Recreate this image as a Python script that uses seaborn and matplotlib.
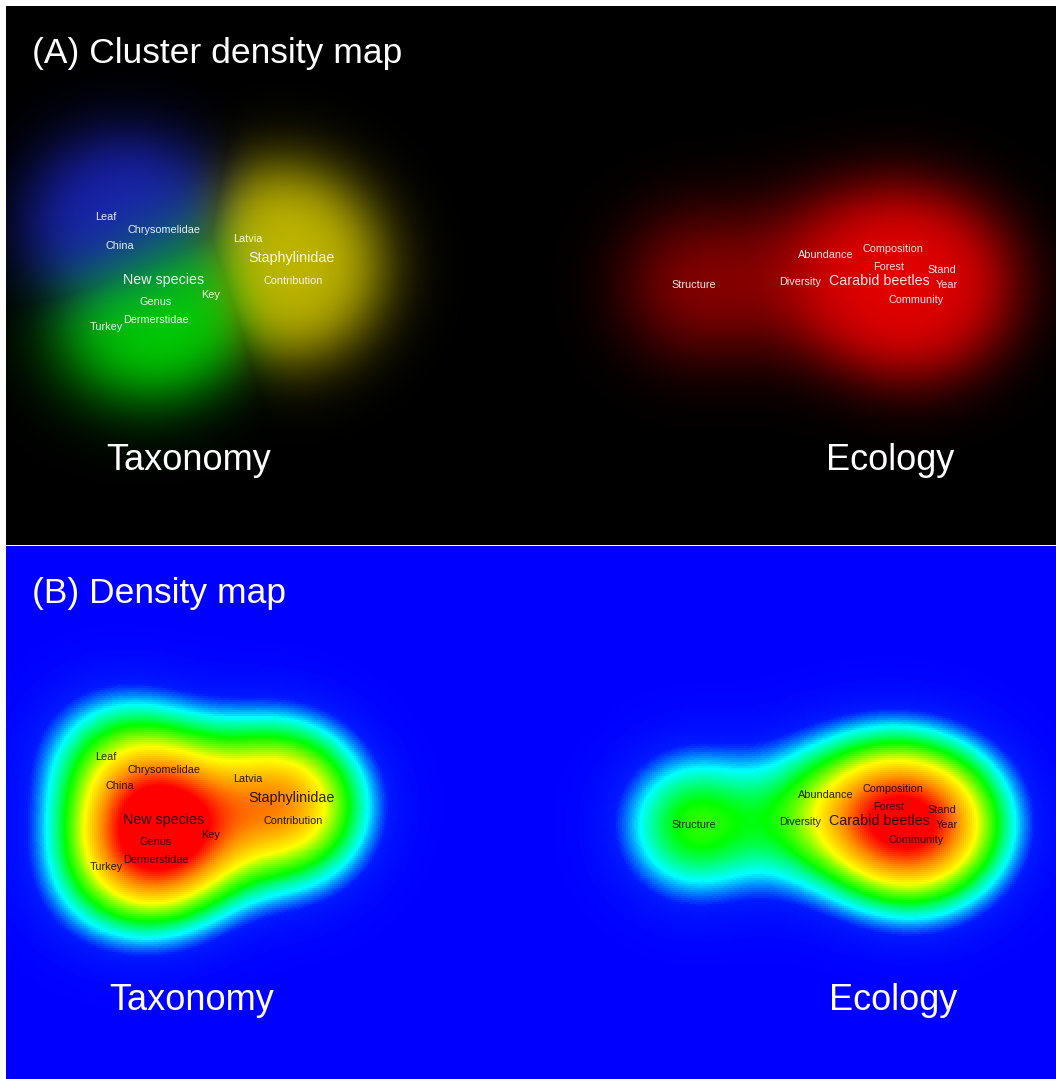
import numpy as np
import matplotlib
matplotlib.use("Agg")
import matplotlib.pyplot as plt
import seaborn as sns
from matplotlib.colors import LinearSegmentedColormap

# ---------------- data ----------------
terms = ["Leaf", "Chrysomelidae", "China", "Latvia", "Staphylinidae", "New species",
         "Contribution", "Key", "Genus", "Dermerstidae", "Turkey",
         "Structure", "Abundance", "Composition", "Forest", "Stand", "Diversity",
         "Carabid beetles", "Year", "Community"]
term_x = [106, 164, 120, 248, 292, 164, 293, 211, 156, 156, 106,
          694, 826, 893, 889, 942, 800, 879, 947, 916]
term_y = [211, 224, 240, 233, 252, 274, 275, 289, 296, 314, 321,
          279, 249, 243, 261, 264, 276, 275, 279, 294]
term_weight = [3, 3, 3, 3, 8, 10, 5, 4, 5, 6, 4,
               7, 1.5, 1, 3, 3, 4, 9, 5, 7]
term_cluster = ["blue", "blue", "blue", "yellow", "yellow", "green",
                "yellow", "green", "green", "green", "green",
                "red", "red", "red", "red", "red", "red", "red", "red", "red"]
cluster_rgb = {"blue": (0.10, 0.13, 0.70), "green": (0.0, 0.84, 0.0),
               "yellow": (0.76, 0.72, 0.0), "red": (0.90, 0.0, 0.0)}
group_labels = ["Taxonomy", "Ecology"]
group_x = [189, 890]
group_y = [454, 454]
panel_titles = ["(A) Cluster density map", "(B) Density map"]

# ---------------- density grid ----------------
STEP = 2
SIGMA = 48.0
gx = np.arange(6, 1056, STEP) + STEP / 2
gy = np.arange(0, 540, STEP) + STEP / 2
GX, GY = np.meshgrid(gx, gy)

def density(mask, sigma=SIGMA):
    d = np.zeros_like(GX)
    for x, y, w, m in zip(term_x, term_y, term_weight, mask):
        if m:
            d += w * np.exp(-((GX - x) ** 2 + (GY - y) ** 2) / (2 * sigma ** 2))
    return d

total = density([True] * len(terms))

sns.set_theme(style="white")
plt.rcParams["font.family"] = ["Liberation Sans", "DejaVu Sans"]

W, H = 1056, 1079
fig = plt.figure(figsize=(W / 100, H / 100), dpi=100)
fig.patch.set_facecolor("white")

SMALL, LARGE, BIG = 7.8, 10.3, 25.5
LARGE_TERMS = ("New species", "Staphylinidae", "Carabid beetles")

# ---------------- Panel A: cluster density ----------------
axA = fig.add_axes([6 / W, 1 - 545 / H, 1050 / W, 539 / H])
num = np.zeros(GX.shape + (3,))
den = np.zeros(GX.shape)
peak = np.zeros(GX.shape)
for c, col in cluster_rgb.items():
    dc = density([k == c for k in term_cluster], sigma=56)
    nc = dc / dc.max()
    num += (nc ** 2)[..., None] * np.array(col)[None, None, :]
    den += nc ** 2
    peak = np.maximum(peak, nc)
mix = num / np.maximum(den, 1e-12)[..., None]
bright = 1 - np.exp(-(peak / 0.36) ** 1.35)
rgb = np.clip(mix * bright[..., None], 0, 1)
axA.imshow(rgb, extent=(6, 1056, 540, 0), aspect="auto", interpolation="bilinear")
axA.set_xlim(6, 1056)
axA.set_ylim(539, 0)
axA.set_axis_off()
for t, x, y in zip(terms, term_x, term_y):
    axA.text(x, y, t, color="white", fontsize=LARGE if t in LARGE_TERMS else SMALL,
             ha="center", va="center", alpha=0.9)
axA.text(32, 48, panel_titles[0], color="white", fontsize=BIG, ha="left", va="center")
for g, x, y in zip(group_labels, group_x, group_y):
    axA.text(x, y, g, color="white", fontsize=BIG + 0.5, ha="center", va="center")

# ---------------- Panel B: density (seaborn heatmap) ----------------
axB = fig.add_axes([6 / W, 0, 1050 / W, 533 / H])
cmap = LinearSegmentedColormap.from_list(
    "vos", [(0.0, (0, 0, 1)), (0.07, (0, 0.1, 1)), (0.15, (0, 1, 1)), (0.27, (0, 1, 0)),
            (0.45, (1, 1, 0)), (0.65, (1, 0.55, 0)), (0.85, (1, 0, 0)), (1.0, (1, 0, 0))])
norm_d = total / total.max() * 1.1
sns.heatmap(norm_d, cmap=cmap, vmin=0, vmax=1, cbar=False,
            xticklabels=False, yticklabels=False, ax=axB, rasterized=True)
axB.set_xlim(0, norm_d.shape[1])
axB.set_ylim(533 / STEP, 0)

def to_cell(x, y):
    return (x - 6) / STEP, y / STEP

for t, x, y in zip(terms, term_x, term_y):
    cx, cy = to_cell(x, y)
    axB.text(cx, cy, t, color="black", fontsize=LARGE if t in LARGE_TERMS else SMALL,
             ha="center", va="center", alpha=0.85)
cx, cy = to_cell(32, 48)
axB.text(cx, cy, panel_titles[1], color="white", fontsize=BIG, ha="left", va="center")
for g, x, y in zip(group_labels, group_x, group_y):
    cx, cy = to_cell(x + 3, y)
    axB.text(cx, cy, g, color="white", fontsize=BIG + 0.5, ha="center", va="center")
axB.set_axis_off()

fig.savefig("out.png", dpi=100, facecolor="white")
